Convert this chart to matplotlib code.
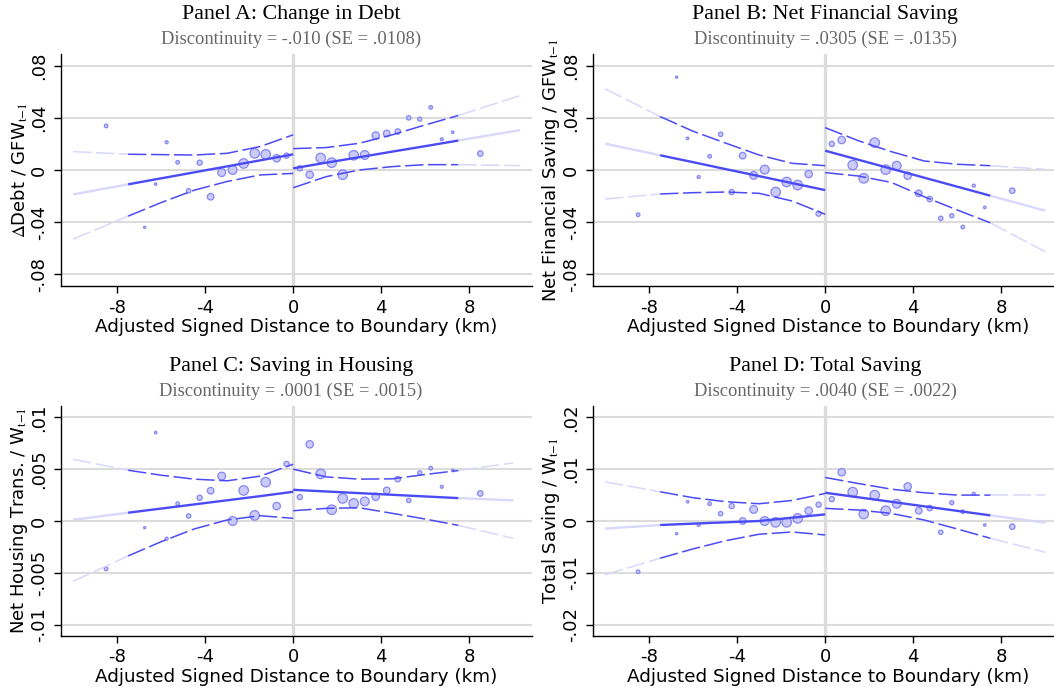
import matplotlib
matplotlib.use("Agg")
import matplotlib.pyplot as plt
import numpy as np

# bin centres (km) and bin weight (marker diameter, px)
bin_x = [-8.5, -6.75, -6.25, -5.75, -5.25, -4.75, -4.25, -3.75, -3.25, -2.75,
         -2.25, -1.75, -1.25, -0.75, -0.3,
         0.3, 0.75, 1.25, 1.75, 2.25, 2.75, 3.25, 3.75, 4.25, 4.75,
         5.25, 5.75, 6.25, 6.75, 7.25, 8.5]
bin_size = [3.6, 2.2, 2.5, 3.0, 3.6, 4.4, 5.2, 6.6, 7.8, 8.8,
            9.5, 9.5, 9.5, 7.4, 5.2,
            5.2, 7.4, 9.5, 9.5, 9.5, 9.5, 8.8, 7.4, 6.6, 5.5,
            4.4, 4.1, 3.6, 3.0, 2.5, 5.5]

# binned means
pts_a = [0.0338, -0.044, -0.0108, 0.0213, 0.0059, -0.016, 0.0056, -0.0205, -0.002, 0.0,
         0.005, 0.0128, 0.012, 0.009, 0.011,
         0.0013, -0.0036, 0.0092, 0.0056, -0.0036, 0.0113, 0.0115, 0.0264, 0.028, 0.0295,
         0.040, 0.039, 0.048, 0.0236, 0.029, 0.0126]
pts_b = [-0.0343, 0.0712, 0.0243, -0.0054, 0.0105, 0.0274, -0.0169, 0.011, -0.0041, 0.0003,
         -0.0169, -0.0092, -0.0115, -0.0031, -0.0335,
         0.020, 0.023, 0.0038, -0.0064, 0.021, 0.0003, 0.0033, -0.0044, -0.0179, -0.0223,
         -0.0371, -0.0351, -0.0438, -0.012, -0.0287, -0.0159]
pts_c = [-0.00462, -0.00064, 0.00853, -0.0017, 0.00167, 0.00048, 0.00224, 0.00292, 0.00433, 0.0,
         0.00295, 0.00054, 0.00375, 0.00144, 0.00551,
         0.00231, 0.0074, 0.00455, 0.00109, 0.00218, 0.0017, 0.00189, 0.00234, 0.00295, 0.00404,
         0.00199, 0.00465, 0.0051, 0.0033, 0.00487, 0.00266]
pts_d = [-0.0098, -0.00244, 0.00372, -0.00077, 0.00333, 0.00141, 0.00288, 0.0, 0.00224, 0.0,
         -0.00026, -0.00026, 0.00051, 0.00199, 0.00314,
         0.00423, 0.00942, 0.00558, 0.00135, 0.005, 0.00199, 0.00333, 0.00667, 0.00199, 0.0025,
         -0.00218, 0.00353, 0.0018, 0.00526, -0.00077, -0.00109]

# fitted line and confidence band, left and right of the boundary
ci_x_left = [-10, -7.5, -6, -4.5, -3, -1.5, 0]
ci_x_right = [0, 1.5, 3, 4.5, 6, 7.5, 10]
ci_x_right_a = [0, 1.5, 3, 4.5, 6, 7.5, 10.3]

fit_a_l = [-0.0187, -0.011, -0.0064, -0.0018, 0.0028, 0.0074, 0.012]
up_a_l = [0.0141, 0.0121, 0.0118, 0.0115, 0.0128, 0.018, 0.027]
lo_a_l = [-0.053, -0.0354, -0.025, -0.0155, -0.0088, -0.0038, -0.0026]
fit_a_r = [0.0013, 0.0056, 0.0098, 0.0141, 0.0183, 0.0226, 0.0306]
up_a_r = [0.0164, 0.0172, 0.0205, 0.027, 0.0346, 0.0418, 0.057]
lo_a_r = [-0.0136, -0.0051, 0.0, 0.0026, 0.0041, 0.0041, 0.0033]

fit_b_l = [0.0202, 0.0113, 0.006, 0.0006, -0.0047, -0.0101, -0.0154]
up_b_l = [0.0623, 0.041, 0.0297, 0.0205, 0.0115, 0.0051, 0.0033]
lo_b_l = [-0.0223, -0.0184, -0.0174, -0.0169, -0.0179, -0.0238, -0.034]
fit_b_r = [0.0148, 0.0079, 0.001, -0.0059, -0.0128, -0.0197, -0.0312]
up_b_r = [0.0325, 0.0225, 0.0141, 0.0069, 0.0044, 0.0033, 0.0005]
lo_b_r = [-0.002, -0.0046, -0.0095, -0.0205, -0.0307, -0.0405, -0.0627]

fit_c_l = [0.00012, 0.0008, 0.0012, 0.0016, 0.0020, 0.0024, 0.00282]
up_c_l = [0.00596, 0.0049, 0.00442, 0.00404, 0.00388, 0.00433, 0.00548]
lo_c_l = [-0.00583, -0.00337, -0.002, -0.00077, 0.0001, 0.00051, 0.00026]
fit_c_r = [0.00301, 0.00285, 0.00269, 0.00253, 0.00237, 0.00221, 0.00199]
up_c_r = [0.005, 0.00426, 0.00404, 0.00407, 0.00449, 0.00487, 0.00561]
lo_c_r = [0.00099, 0.00122, 0.00128, 0.00074, 0.00019, -0.00042, -0.00167]

fit_d_l = [-0.00147, -0.00077, -0.00051, -0.00025, 0.00000, 0.00064, 0.00128]
up_d_l = [0.00756, 0.00564, 0.00449, 0.00372, 0.00333, 0.00397, 0.00532]
lo_d_l = [-0.01038, -0.00718, -0.00538, -0.00378, -0.00256, -0.00212, -0.00269]
fit_d_r = [0.00545, 0.00458, 0.00371, 0.00283, 0.00196, 0.00109, -0.00032]
up_d_r = [0.0084, 0.00724, 0.00615, 0.00545, 0.005, 0.005, 0.005]
lo_d_r = [0.00244, 0.00212, 0.00147, 0.00019, -0.00154, -0.00333, -0.00603]

titles = ["Panel A: Change in Debt", "Panel B: Net Financial Saving",
          "Panel C: Saving in Housing", "Panel D: Total Saving"]
subtitles = ["Discontinuity = -.010 (SE = .0108)", "Discontinuity = .0305 (SE = .0135)",
             "Discontinuity = .0001 (SE = .0015)", "Discontinuity = .0040 (SE = .0022)"]
ylabels = [r"$\Delta$Debt / GFW$_{\mathrm{t{-}1}}$", r"Net Financial Saving / GFW$_{\mathrm{t{-}1}}$",
           r"Net Housing Trans. / W$_{\mathrm{t{-}1}}$", r"Total Saving / W$_{\mathrm{t{-}1}}$"]
yticks_ab = [-0.08, -0.04, 0, 0.04, 0.08]
yticklabels_ab = ["-.08", "-.04", "0", ".04", ".08"]
yticks_c = [-0.01, -0.005, 0, 0.005, 0.01]
yticklabels_c = ["-.01", "-.005", "0", ".005", ".01"]
yticks_d = [-0.02, -0.01, 0, 0.01, 0.02]
yticklabels_d = ["-.02", "-.01", "0", ".01", ".02"]
xticks = [-8, -4, 0, 4, 8]

DARK = "#4b4bf5"
LIGHT = "#d8d8fa"
PT_FACE = "#c6c6fa"
PT_EDGE = "#7c7cf2"
GRID = "#dcdcdc"

plt.rcParams['font.family'] = ['DejaVu Sans']
plt.rcParams['mathtext.fontset'] = 'stix'

W, H = 1054, 688
fig = plt.figure(figsize=(W / 100, H / 100), dpi=100)


def px_axes(left, top, right, bottom):
    return fig.add_axes([left / W, 1 - bottom / H, (right - left) / W, (bottom - top) / H])


def draw_band(ax, xs, ys, dark_idx, style, lw):
    xs = np.asarray(xs)
    ys = np.asarray(ys)
    # dark part is inside the bandwidth, light part is the extrapolation
    if dark_idx[0] == 0:
        ax.plot(xs[:dark_idx[1] + 1], ys[:dark_idx[1] + 1], color=DARK, lw=lw, ls=style,
                solid_capstyle='butt', zorder=4)
        ax.plot(xs[dark_idx[1]:], ys[dark_idx[1]:], color=LIGHT, lw=lw, ls=style,
                solid_capstyle='butt', zorder=3)
    else:
        ax.plot(xs[:dark_idx[0] + 1], ys[:dark_idx[0] + 1], color=LIGHT, lw=lw, ls=style,
                solid_capstyle='butt', zorder=3)
        ax.plot(xs[dark_idx[0]:], ys[dark_idx[0]:], color=DARK, lw=lw, ls=style,
                solid_capstyle='butt', zorder=4)


panels = [
    (pts_a, (fit_a_l, up_a_l, lo_a_l), (fit_a_r, up_a_r, lo_a_r), ci_x_right_a,
     yticks_ab, yticklabels_ab, 0.089),
    (pts_b, (fit_b_l, up_b_l, lo_b_l), (fit_b_r, up_b_r, lo_b_r), ci_x_right,
     yticks_ab, yticklabels_ab, 0.089),
    (pts_c, (fit_c_l, up_c_l, lo_c_l), (fit_c_r, up_c_r, lo_c_r), ci_x_right,
     yticks_c, yticklabels_c, 0.0111),
    (pts_d, (fit_d_l, up_d_l, lo_d_l), (fit_d_r, up_d_r, lo_d_r), ci_x_right,
     yticks_d, yticklabels_d, 0.0222),
]
boxes = [(61, 54, 532, 286), (593, 54, 1064, 286), (61, 406, 532, 636), (593, 406, 1064, 636)]
title_pos = [(291, 15, 39), (825, 15, 39), (291, 367, 391), (825, 367, 391)]

dash = (0, (12, 3))
for i, (pts, left, right, xr, yt, ytl, ylim) in enumerate(panels):
    ax = px_axes(*boxes[i])
    ax.set_xlim(-10.55, 10.85)
    ax.set_ylim(-ylim, ylim)
    for y in yt:
        ax.axhline(y, color=GRID, lw=1.5, zorder=0)
    ax.axvline(0, color=GRID, lw=2.4, zorder=1)

    sizes = [(d * 0.72) ** 2 for d in bin_size]
    ax.scatter(bin_x, pts, s=sizes, facecolor=PT_FACE, edgecolor=PT_EDGE,
               linewidths=0.9, alpha=0.9, zorder=2)

    fit_l, up_l, lo_l = left
    fit_r, up_r, lo_r = right
    draw_band(ax, ci_x_left, fit_l, (1, 6), '-', 1.7)
    draw_band(ax, ci_x_left, up_l, (1, 6), dash, 1.1)
    draw_band(ax, ci_x_left, lo_l, (1, 6), dash, 1.1)
    draw_band(ax, xr, fit_r, (0, 5), '-', 1.7)
    draw_band(ax, xr, up_r, (0, 5), dash, 1.1)
    draw_band(ax, xr, lo_r, (0, 5), dash, 1.1)

    ax.set_xticks(xticks)
    ax.set_xticklabels([str(t) for t in xticks])
    ax.set_yticks(yt)
    ax.set_yticklabels(ytl)
    ax.tick_params(axis='y', labelrotation=90, labelsize=13, length=5, width=1, pad=4.5)
    for lab in ax.get_yticklabels():
        lab.set_va('center')
    ax.tick_params(axis='x', labelsize=13, length=5, width=1, pad=4)
    ax.spines['top'].set_visible(False)
    ax.spines['right'].set_visible(False)
    ax.spines['left'].set_linewidth(1)
    ax.spines['bottom'].set_linewidth(1)
    ax.set_xlabel("Adjusted Signed Distance to Boundary (km)", fontsize=13.2, labelpad=1)
    ax.set_ylabel(ylabels[i], fontsize=13, labelpad=0)

    tx, ty, sy = title_pos[i]
    fig.text(tx / W, 1 - ty / H, titles[i], family='Liberation Serif', fontsize=15.8,
             ha='center', va='center')
    fig.text(tx / W, 1 - sy / H, subtitles[i], family='Liberation Serif', fontsize=13.3,
             color='#666666', ha='center', va='center')

fig.savefig("out.png", dpi=100)
